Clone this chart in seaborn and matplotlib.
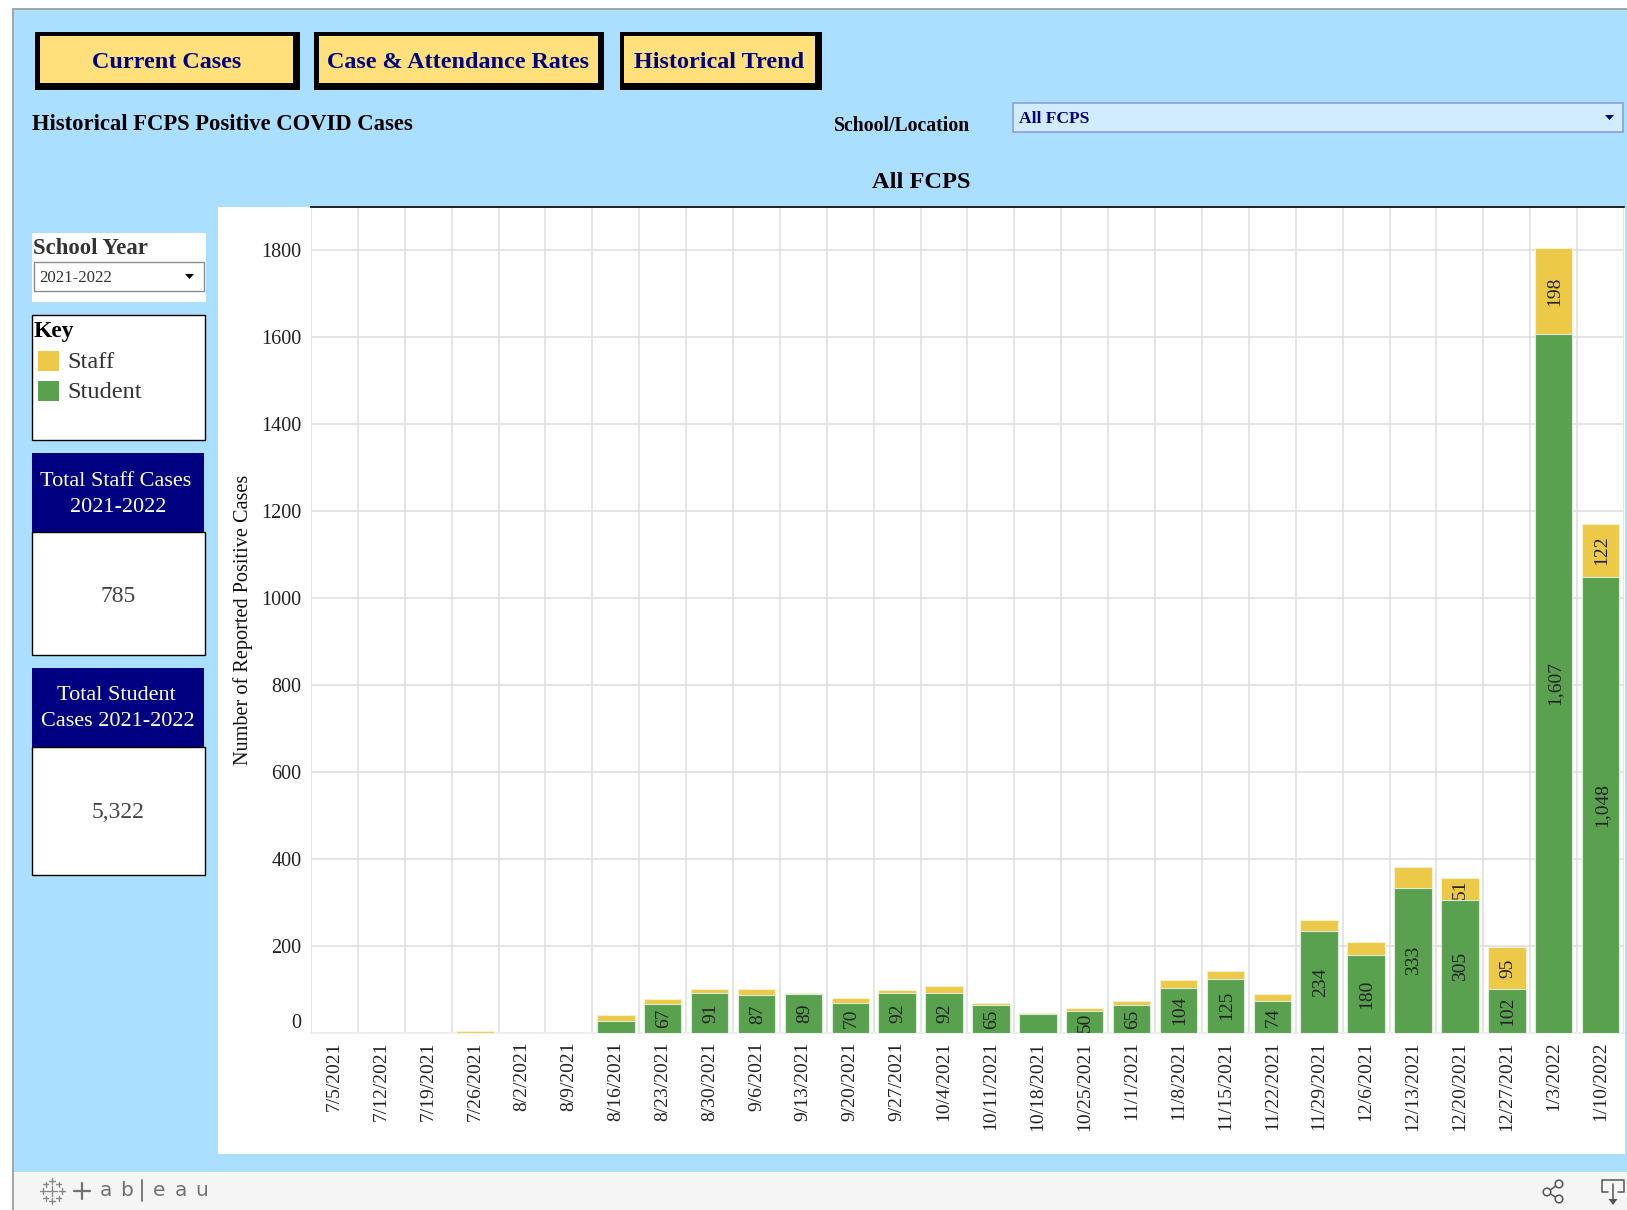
import matplotlib
matplotlib.use("Agg")
import matplotlib.pyplot as plt
from matplotlib.patches import Rectangle, Circle, Polygon
import numpy as np
import pandas as pd
import seaborn as sns

weeks = ["7/5/2021","7/12/2021","7/19/2021","7/26/2021","8/2/2021","8/9/2021","8/16/2021","8/23/2021",
         "8/30/2021","9/6/2021","9/13/2021","9/20/2021","9/27/2021","10/4/2021","10/11/2021","10/18/2021",
         "10/25/2021","11/1/2021","11/8/2021","11/15/2021","11/22/2021","11/29/2021","12/6/2021","12/13/2021",
         "12/20/2021","12/27/2021","1/3/2022","1/10/2022"]
student = [0,0,0,0,0,0,27,67,91,87,89,70,92,92,65,44,50,65,104,125,74,234,180,333,305,102,1607,1048]
staff = [0,0,0,4,0,0,14,12,10,14,4,11,8,15,4,3,7,8,17,17,16,26,30,49,51,95,198,122]
student_labelled = [0,0,0,0,0,0,0,1,1,1,1,1,1,1,1,0,1,1,1,1,1,1,1,1,1,1,1,1]
staff_labelled = [0,0,0,0,0,0,0,0,0,0,0,0,0,0,0,0,0,0,0,0,0,0,0,0,1,1,1,1]
yticks = [0,200,400,600,800,1000,1200,1400,1600,1800]

W, H = 1627, 1210
BLUE = "#ABDFFF"; NAVY = "#000080"; GOLD = "#EDC948"; GREEN = "#59A14F"
SERIF = "Liberation Serif"

sns.set_theme(style="white", font=SERIF)
plt.rcParams["font.family"] = [SERIF, "DejaVu Serif"]

fig = plt.figure(figsize=(W/100, H/100), dpi=100, facecolor="white")

bg = fig.add_axes([0, 0, 1, 1], zorder=0)
bg.set_xlim(0, W); bg.set_ylim(H, 0); bg.axis("off")

def box(x0, y0, x1, y1, fc, ec="none", lw=0, z=1):
    bg.add_patch(Rectangle((x0, y0), x1-x0, y1-y0, facecolor=fc, edgecolor=ec, linewidth=lw, zorder=z))

def label(x, y, s, size, color="black", weight="normal", ha="left", va="center", **kw):
    bg.text(x, y, s, fontsize=size, color=color, fontweight=weight, ha=ha, va=va, zorder=5, **kw)

box(12, 8, W, H, "#A6A6A6")
box(14, 10, W, 1172, BLUE)
box(14, 1172, W, H, "#F5F5F5")
box(218, 207, 1625, 1154, "white")

for (x0, x1, ix0, ix1, s) in [(35, 300, 40, 293, "Current Cases"),
                              (314.5, 604.5, 319, 598, "Case & Attendance Rates"),
                              (620, 822, 624, 815, "Historical Trend")]:
    box(x0, 32, x1, 90, "black")
    box(ix0, 36, ix1, 83, "#FFE07A", z=2)
    label((ix0+ix1)/2, 62, s, 17.4, NAVY, "bold", ha="center")

label(32, 125, "Historical FCPS Positive COVID Cases", 16.3, "black", "bold")
label(834, 126, "School/Location", 14.2, "black", "bold")
box(1013, 103, 1623, 132, "#D1ECFF", "#8E9CDB", 1.2)
label(1019, 119, "All FCPS", 12.6, NAVY, "bold")
bg.add_patch(Polygon([[1605, 115], [1614, 115], [1609.5, 120]], closed=True, fc=NAVY, ec="none", zorder=5))
label(921, 182, "All FCPS", 17.6, "black", "bold", ha="center")

box(32, 233, 206, 301.5, "white")
label(33, 248, "School Year", 16.4, "#333333", "bold")
box(34, 262, 204, 291, "white", "#8C8C8C", 1.0, z=2)
label(39, 278, "2021-2022", 12.2, "#333333")
bg.add_patch(Polygon([[185, 274], [194, 274], [189.5, 279]], closed=True, fc="black", ec="none", zorder=5))

box(32, 314.5, 205.5, 440, "white", "black", 1.0)
label(34, 331, "Key", 17, "black", "bold")
box(38, 351, 59, 371, GOLD, z=2)
box(38, 381, 59, 401, GREEN, z=2)
label(67, 363, "Staff", 17.5, "#333333")
label(67, 393, "Student", 17.5, "#333333")

box(32, 453, 204.5, 532, NAVY)
label(116, 481, "Total Staff Cases", 16, "white", ha="center")
label(118, 507, "2021-2022", 16, "white", ha="center")
box(32, 532, 205.5, 654.5, "white", "black", 1.0)
label(118.5, 596, "785", 17, "#444444", ha="center")
box(32, 668, 204.5, 747, NAVY)
label(116, 695, "Total Student", 16, "white", ha="center")
label(118, 721, "Cases 2021-2022", 16, "white", ha="center")
box(32, 747, 205.5, 875, "white", "black", 1.0)
label(118, 813, "5,322", 17, "#444444", ha="center")

# tableau footer
for (x, s) in [(100, "a"), (120, "b"), (153, "e"), (175, "a"), (195, "u")]:
    label(x, 1191, s, 14.5, "#707070", family="DejaVu Sans")
bg.plot([74, 90], [1191, 1191], color="#707070", lw=1.6, zorder=5)
bg.plot([82, 82], [1183, 1199], color="#707070", lw=1.6, zorder=5)
bg.plot([142, 142], [1180, 1201], color="#707070", lw=1.3, zorder=5)
for (cx, cy, r) in [(52.5, 1191, 5), (43, 1191, 3), (62, 1191, 3), (52.5, 1181, 3), (52.5, 1201, 3),
                    (46, 1184, 2.5), (59, 1184, 2.5), (46, 1198, 2.5), (59, 1198, 2.5)]:
    bg.plot([cx-r, cx+r], [cy, cy], color="#888888", lw=1.0, zorder=5)
    bg.plot([cx, cx], [cy-r, cy+r], color="#888888", lw=1.0, zorder=5)
bg.plot([1559, 1547, 1559], [1184, 1192, 1199], color="#555555", lw=1.1, zorder=5)
for (cx, cy) in [(1559, 1184), (1547, 1192), (1559, 1199)]:
    bg.add_patch(Circle((cx, cy), 3.8, fc="#F5F5F5", ec="#555555", lw=1.1, zorder=6))
bg.plot([1608, 1602, 1602, 1624, 1624, 1618], [1192, 1192, 1180, 1180, 1192, 1192], color="#555555", lw=1.1, zorder=5)
bg.plot([1613, 1613], [1184, 1200], color="#555555", lw=1.1, zorder=5)
bg.add_patch(Polygon([[1608.5, 1199], [1617.5, 1199], [1613, 1205]], closed=True, fc="#555555", ec="none", zorder=5))

# chart
L, R, T, B = 311, 1624, 207, 1033
ax = fig.add_axes([L/W, 1-B/H, (R-L)/W, (B-T)/H], zorder=2, facecolor="none")
df = pd.DataFrame({"week": weeks, "student": student, "staff": staff})
df["total"] = df["student"] + df["staff"]

sns.barplot(data=df, x="week", y="total", color=GOLD, saturation=1, width=0.8, ax=ax,
            edgecolor="#F6EFCF", linewidth=0.8, zorder=3)
sns.barplot(data=df, x="week", y="student", color=GREEN, saturation=1, width=0.8, ax=ax,
            edgecolor="#DCEBD8", linewidth=0.8, zorder=4)

ax.set_xlim(-0.5, len(weeks)-0.5)
ax.set_ylim(0, (B-T)/(783/1800))
ax.set_yticks(yticks)
ax.set_yticklabels([str(v) for v in yticks], fontsize=14.5, color="#222222")
ax.get_yticklabels()[0].set_verticalalignment("bottom")
ax.set_xticks(range(len(weeks)))
ax.set_xticklabels(weeks, rotation=90, fontsize=14, color="#222222", ha="center", va="top")
ax.tick_params(axis="x", length=0, pad=6)
ax.tick_params(axis="y", length=0, pad=7)
ax.set_xticks(np.arange(-0.5, len(weeks)), minor=True)
ax.tick_params(axis="x", which="minor", length=7, color="#EEEEEE", width=1.0)
ax.set_axisbelow(True)
ax.grid(False)
ax.grid(axis="y", which="major", color="#DEDEDE", lw=1.1, zorder=0)
ax.grid(axis="x", which="minor", color="#DEDEDE", lw=1.1, zorder=0)
ax.set_xlabel("")
ax.set_ylabel("")
for side in ["left", "right"]:
    ax.spines[side].set_visible(False)
ax.spines["top"].set_visible(True)
ax.spines["top"].set_color("#111111")
ax.spines["top"].set_linewidth(1.3)
ax.spines["bottom"].set_color("#EEEEEE")
ax.spines["bottom"].set_linewidth(1.3)

for i, (s, t) in enumerate(zip(student, staff)):
    if student_labelled[i]:
        ax.text(i+0.02, s/2, f"{s:,}", rotation=90, ha="center", va="center", fontsize=14, color="#222222", zorder=6)
    if staff_labelled[i]:
        ax.text(i+0.02, s+t/2, str(t), rotation=90, ha="center", va="center", fontsize=14, color="#222222", zorder=6)

label(243, 620, "Number of Reported Positive Cases", 14.6, "#111111", rotation=90, ha="center")

fig.savefig("out.png", dpi=100, facecolor="white")
